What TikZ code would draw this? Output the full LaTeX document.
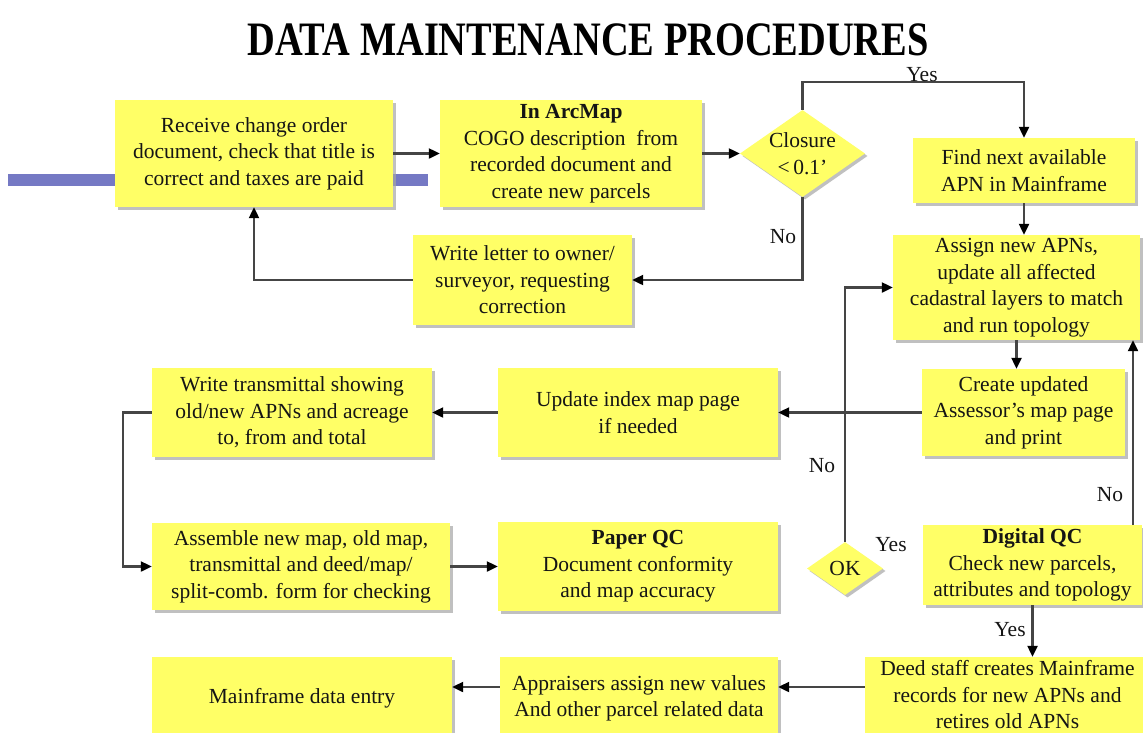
\documentclass[tikz,border=0pt]{standalone}
\usepackage{fontspec}
\setmainfont{Liberation Serif}
\usepackage{graphicx}
\usetikzlibrary{arrows.meta,shapes.geometric,shadows}

\definecolor{boxfill}{HTML}{FFFF66}
\definecolor{barblue}{HTML}{7579C4}
\definecolor{linegray}{HTML}{454545}
\definecolor{inkdark}{HTML}{151515}
\newcommand\flowfont{\fontsize{21.5}{26.5}\selectfont}

\tikzset{
  softshadow/.style={drop shadow={shadow xshift=2.5pt, shadow yshift=-2.5pt, fill=gray!70, opacity=0.7}},
  stepbox/.style={rectangle, fill=boxfill, draw=none, inner sep=0pt, align=center,
    font=\flowfont, text=inkdark, softshadow},
  decision/.style={diamond, fill=boxfill, draw=none, inner sep=0pt, softshadow},
  dectext/.style={font=\flowfont, text=inkdark, align=center, inner sep=0pt},
  lbl/.style={font=\flowfont, text=inkdark, inner sep=0pt},
  flow/.style={draw=linegray, line width=2.2pt,
    -{Triangle[length=11pt,width=10pt,color=black]}},
}

\begin{document}
\begin{tikzpicture}[x=1pt,y=-1pt]
  \fill[white] (0,0) rectangle (1143,732);
  \useasboundingbox (0,0) rectangle (1143,732);
  \clip (0,0) rectangle (1143,732);

  % heading
  \node[anchor=base, text=black, inner sep=0pt] (title) at (588,55)
    {\scalebox{0.8}[1]{\fontsize{48}{50}\selectfont\bfseries DATA MAINTENANCE PROCEDURES}};

  % decorative bar behind the first step
  \fill[barblue] (8,174) rectangle (428,186);

  % process steps
  \node[stepbox, minimum width=278pt, minimum height=107pt] (b1) at (254,153.5)
    {Receive change order\\document, check that title is\\correct and taxes are paid};
  \node[stepbox, minimum width=262pt, minimum height=107pt] (b2) at (571,153.5)
    {\textbf{In ArcMap}\\COGO description\ \ from\\recorded document and\\create new parcels};
  \node[decision, minimum width=125pt, minimum height=87pt] (cl) at (802.5,153.5) {};
  \node[dectext] (clt) at (cl) {Closure\\\textless\,0.1’};
  \node[stepbox, minimum width=222pt, minimum height=65pt] (find) at (1024,170.5)
    {Find next available\\APN in Mainframe};
  \node[stepbox, minimum width=247pt, minimum height=105pt] (assign) at (1016.5,287.5)
    {Assign new APNs,\\update all affected\\cadastral layers to match\\and run topology};
  \node[stepbox, minimum width=219pt, minimum height=90pt] (letter) at (522.5,280)
    {Write letter to owner/\\surveyor, requesting\\correction};
  \node[stepbox, minimum width=203pt, minimum height=87pt] (create) at (1023.5,412.5)
    {Create updated\\Assessor’s map page\\and print};
  \node[stepbox, minimum width=280pt, minimum height=89pt] (update) at (638,412.5)
    {Update index map page\\if needed};
  \node[stepbox, minimum width=280pt, minimum height=89pt] (trans) at (292,412.5)
    {Write transmittal showing\\old/new APNs and acreage\\to, from and total};
  \node[stepbox, minimum width=298pt, minimum height=87pt] (assemble) at (301,566.5)
    {Assemble new map, old map,\\transmittal and deed/map/\\split-comb. form for checking};
  \node[stepbox, minimum width=280pt, minimum height=89pt] (paper) at (638,566.5)
    {\textbf{Paper QC}\\Document conformity\\and map accuracy};
  \node[decision, minimum width=76pt, minimum height=53pt] (ok) at (845,568.5) {};
  \node[dectext] (okt) at (ok) {OK};
  \node[stepbox, minimum width=219pt, minimum height=80pt] (dqc) at (1032.5,565)
    {\textbf{Digital QC}\\Check new parcels,\\attributes and topology};
  \node[stepbox, minimum width=285pt, minimum height=76pt] (deed) at (1007.5,695)
    {Deed staff creates Mainframe\\records for new APNs and\\retires old APNs};
  \node[stepbox, minimum width=278pt, minimum height=83pt] (appr) at (639,698.5)
    {Appraisers assign new values\\And other parcel related data};
  \node[stepbox, minimum width=300pt, minimum height=83pt] (main) at (302,698.5)
    {Mainframe data entry};

  % connectors
  \coordinate (dqcR) at (1133,525);
  \draw[flow] (b1.east) -- (b2.west);
  \draw[flow] (b2.east) -- (cl.west);
  \draw[flow] (cl.north) -- ++(0,-28) -| (find.north);
  \draw[flow] (find.south) -- (find.south |- assign.north);
  \draw[flow] (cl.south) |- (letter.east);
  \draw[flow] (letter.west) -| (b1.south);
  \draw[flow] (assign.south) -- (assign.south |- create.north);
  \draw[flow] (create.west) -- (update.east);
  \draw[flow] (update.west) -- (trans.east);
  \draw[flow] (trans.west) -- ++(-29,0) |- (assemble.west);
  \draw[flow] (assemble.east) -- (paper.west);
  \draw[flow] (ok.north) |- (assign.west);
  \draw[flow] (dqcR) -- (dqcR |- assign.south);
  \draw[flow] (dqc.south) -- (dqc.south |- deed.north);
  \draw[flow] (deed.west |- 0,687) -- (appr.east |- 0,687);
  \draw[flow] (appr.west |- 0,687) -- (main.east |- 0,687);

  % branch labels
  \node[lbl, anchor=base] (yes1) at (922,81) {Yes};
  \node[lbl] (no1) at (783,237) {No};
  \node[lbl] (no2) at (822,466) {No};
  \node[lbl] (yes2) at (891,545) {Yes};
  \node[lbl] (no3) at (1110,495) {No};
  \node[lbl] (yes3) at (1010,630) {Yes};
\end{tikzpicture}
\end{document}
